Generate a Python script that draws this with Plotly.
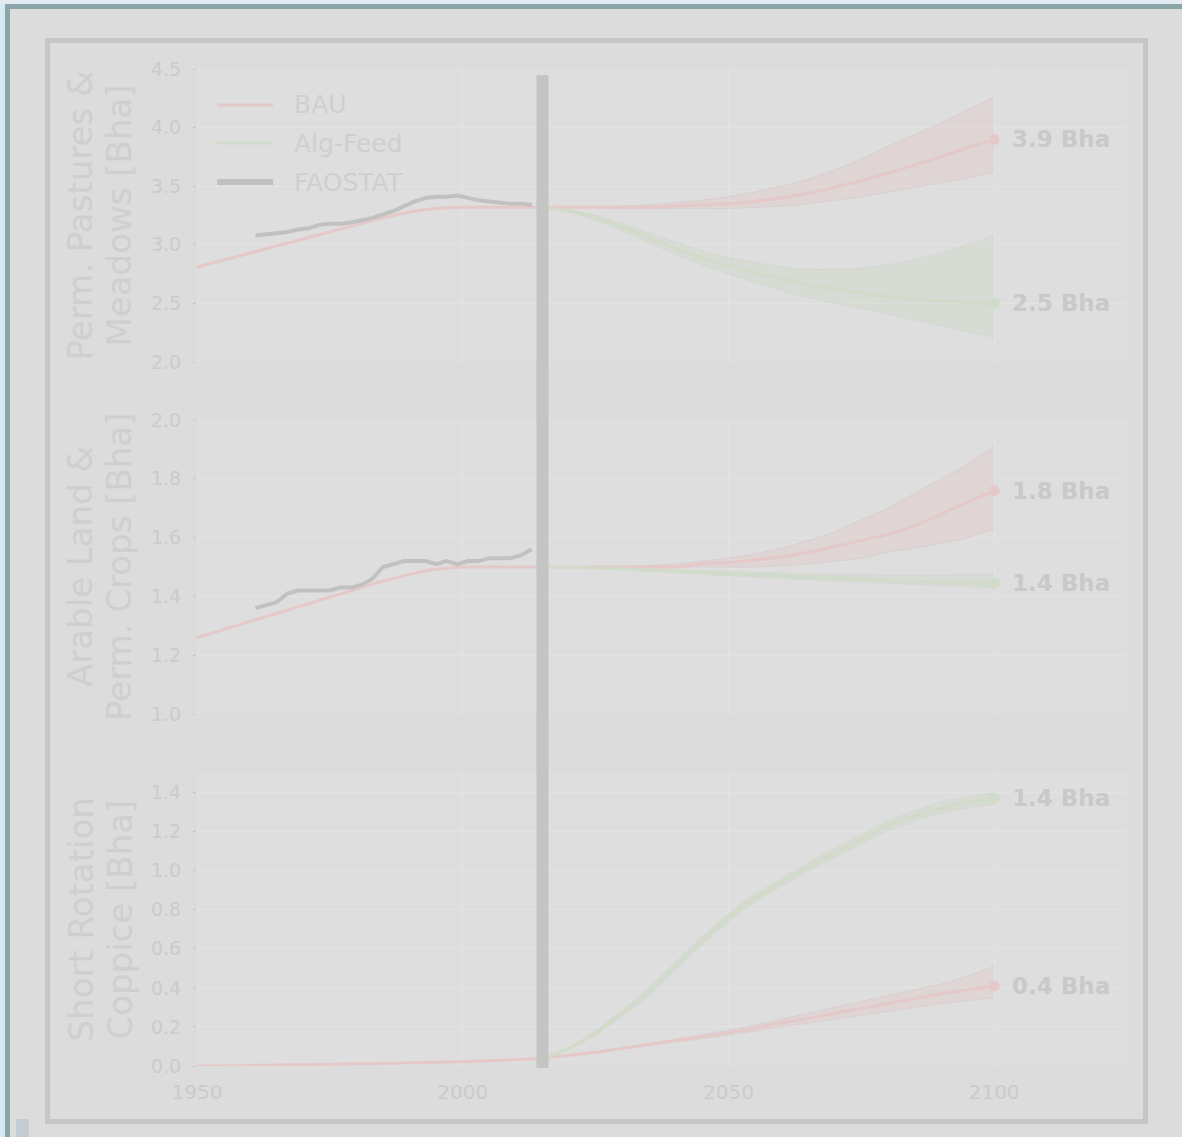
import plotly.graph_objects as go

# ---------------------------------------------------------------- data
years_hist = [1950, 1955, 1960, 1965, 1970, 1975, 1980, 1985, 1990, 1995, 2000, 2005, 2010, 2015]
years_proj = [2015, 2020, 2025, 2030, 2035, 2040, 2045, 2050, 2055, 2060,
              2065, 2070, 2075, 2080, 2085, 2090, 2095, 2100]
years_fao = [1961, 1963, 1965, 1967, 1969, 1971, 1973, 1975, 1977, 1979, 1981, 1983, 1985, 1987,
             1989, 1991, 1993, 1995, 1997, 1999, 2001, 2003, 2005, 2007, 2009, 2011, 2013]

# Permanent pastures & meadows [Bha]
pasture_hist = [2.81, 2.87, 2.93, 2.99, 3.05, 3.11, 3.17, 3.23, 3.28, 3.31, 3.32, 3.32, 3.32, 3.32]
pasture_bau = [3.32, 3.32, 3.32, 3.32, 3.32, 3.33, 3.34, 3.35, 3.37, 3.40, 3.44, 3.49, 3.55, 3.61,
               3.68, 3.75, 3.83, 3.90]
pasture_bau_hi = [3.32, 3.32, 3.32, 3.33, 3.34, 3.36, 3.38, 3.41, 3.45, 3.50, 3.56, 3.64, 3.73,
                  3.84, 3.94, 4.04, 4.15, 4.26]
pasture_bau_lo = [3.32, 3.32, 3.32, 3.31, 3.31, 3.31, 3.31, 3.31, 3.32, 3.33, 3.35, 3.38, 3.41,
                  3.45, 3.49, 3.53, 3.57, 3.62]
pasture_alg = [3.32, 3.29, 3.23, 3.15, 3.06, 2.97, 2.89, 2.82, 2.76, 2.71, 2.66, 2.62, 2.59, 2.56,
               2.54, 2.52, 2.51, 2.50]
pasture_alg_hi = [3.32, 3.30, 3.25, 3.18, 3.10, 3.02, 2.95, 2.89, 2.85, 2.81, 2.79, 2.79, 2.80,
                  2.83, 2.87, 2.93, 3.00, 3.08]
pasture_alg_lo = [3.32, 3.28, 3.21, 3.12, 3.02, 2.92, 2.83, 2.75, 2.68, 2.61, 2.55, 2.50, 2.46,
                  2.41, 2.36, 2.31, 2.26, 2.21]
pasture_fao = [3.08, 3.09, 3.10, 3.11, 3.13, 3.14, 3.17, 3.18, 3.18, 3.19, 3.21, 3.23, 3.26, 3.29,
               3.33, 3.37, 3.40, 3.41, 3.41, 3.42, 3.40, 3.38, 3.37, 3.36, 3.35, 3.35, 3.34]

# Arable land & permanent crops [Bha]
arable_hist = [1.26, 1.287, 1.315, 1.342, 1.37, 1.397, 1.425, 1.452, 1.475, 1.492, 1.50, 1.50,
               1.50, 1.50]
arable_bau = [1.50, 1.50, 1.50, 1.50, 1.50, 1.50, 1.51, 1.515, 1.525, 1.535, 1.55, 1.57, 1.59,
              1.61, 1.64, 1.68, 1.72, 1.76]
arable_bau_hi = [1.50, 1.50, 1.50, 1.50, 1.505, 1.51, 1.52, 1.53, 1.545, 1.565, 1.59, 1.62, 1.66,
                 1.70, 1.75, 1.80, 1.85, 1.91]
arable_bau_lo = [1.50, 1.50, 1.50, 1.50, 1.50, 1.50, 1.50, 1.50, 1.50, 1.505, 1.51, 1.52, 1.53,
                 1.55, 1.565, 1.58, 1.60, 1.63]
arable_alg = [1.50, 1.499, 1.497, 1.494, 1.49, 1.486, 1.482, 1.478, 1.474, 1.47, 1.466, 1.462,
              1.458, 1.455, 1.452, 1.449, 1.446, 1.444]
arable_alg_hi = [1.50, 1.50, 1.499, 1.497, 1.494, 1.491, 1.488, 1.485, 1.482, 1.479, 1.477, 1.475,
                 1.474, 1.473, 1.473, 1.473, 1.474, 1.475]
arable_alg_lo = [1.50, 1.498, 1.495, 1.491, 1.486, 1.481, 1.476, 1.471, 1.466, 1.461, 1.457,
                 1.453, 1.449, 1.445, 1.441, 1.437, 1.434, 1.43]
arable_fao = [1.36, 1.37, 1.38, 1.41, 1.42, 1.42, 1.42, 1.42, 1.43, 1.43, 1.44, 1.46, 1.50, 1.51,
              1.52, 1.52, 1.52, 1.51, 1.52, 1.51, 1.52, 1.52, 1.53, 1.53, 1.53, 1.54, 1.56]

# Short rotation coppice [Bha]
src_hist = [0.0, 0.0, 0.003, 0.005, 0.007, 0.009, 0.011, 0.013, 0.016, 0.019, 0.022, 0.027,
            0.033, 0.04]
src_bau = [0.04, 0.055, 0.07, 0.09, 0.11, 0.13, 0.15, 0.17, 0.195, 0.22, 0.245, 0.27, 0.295,
           0.32, 0.345, 0.37, 0.39, 0.41]
src_bau_hi = [0.04, 0.056, 0.072, 0.093, 0.115, 0.137, 0.16, 0.183, 0.21, 0.24, 0.27, 0.30,
              0.33, 0.36, 0.39, 0.42, 0.46, 0.51]
src_bau_lo = [0.04, 0.054, 0.068, 0.087, 0.105, 0.123, 0.14, 0.158, 0.18, 0.20, 0.22, 0.24,
              0.26, 0.28, 0.30, 0.32, 0.335, 0.35]
src_alg = [0.04, 0.09, 0.17, 0.27, 0.38, 0.51, 0.64, 0.76, 0.86, 0.94, 1.02, 1.09, 1.16, 1.23,
           1.28, 1.32, 1.35, 1.37]
src_alg_hi = [0.04, 0.095, 0.18, 0.285, 0.40, 0.53, 0.66, 0.78, 0.88, 0.96, 1.04, 1.115, 1.185,
              1.255, 1.305, 1.35, 1.38, 1.40]
src_alg_lo = [0.04, 0.085, 0.16, 0.255, 0.36, 0.49, 0.62, 0.74, 0.84, 0.92, 1.00, 1.065, 1.135,
              1.205, 1.255, 1.295, 1.32, 1.34]

panel_titles = [("Perm. Pastures &", "Meadows [Bha]"),
                ("Arable Land &", "Perm. Crops [Bha]"),
                ("Short Rotation", "Coppice [Bha]")]
y_ranges = [(2.0, 4.5), (1.0, 2.0), (0.0, 1.5)]
y_dticks = [0.5, 0.2, 0.2]
y_tick_max = [4.5, 2.0, 1.4]
x_ticks = [1950, 2000, 2050, 2100]
x_range = (1950, 2125)
present_year = 2015
legend_names = ["BAU", "Alg-Feed", "FAOSTAT"]

# ---------------------------------------------------------------- style
W, H = 1182, 1137
FONT = "DejaVu Sans"
BG = "#dcdcdc"
PLOT_BG = "#dedede"
GRID = "#e3e3e3"
TEXT = "#cbcbcb"
BAU_COL = "#e5c8c8"
BAU_FILL = "rgba(228,196,196,0.32)"
BAU_EDGE = "#dacece"
ALG_COL = "#d1dbc9"
ALG_FILL = "rgba(200,216,190,0.32)"
ALG_EDGE = "#d3d8d0"
FAO_COL = "#c1c1c1"


def px_x(x):
    return x / W


def px_y(y):
    return 1 - y / H


x_domain = [px_x(197), px_x(1127)]
y_domains = [[px_y(362), px_y(69)], [px_y(714), px_y(420)], [px_y(1066), px_y(773)]]

panels = [
    dict(hist=pasture_hist, bau=pasture_bau, bau_hi=pasture_bau_hi, bau_lo=pasture_bau_lo,
         alg=pasture_alg, alg_hi=pasture_alg_hi, alg_lo=pasture_alg_lo, fao=pasture_fao),
    dict(hist=arable_hist, bau=arable_bau, bau_hi=arable_bau_hi, bau_lo=arable_bau_lo,
         alg=arable_alg, alg_hi=arable_alg_hi, alg_lo=arable_alg_lo, fao=arable_fao),
    dict(hist=src_hist, bau=src_bau, bau_hi=src_bau_hi, bau_lo=src_bau_lo,
         alg=src_alg, alg_hi=src_alg_hi, alg_lo=src_alg_lo, fao=None),
]

fig = go.Figure()
annotations = []

for i, p in enumerate(panels):
    xa = "x" if i == 0 else f"x{i + 1}"
    ya = "y" if i == 0 else f"y{i + 1}"

    def band(lo, hi, fill, edge):
        fig.add_trace(go.Scatter(x=years_proj, y=lo, mode="lines", xaxis=xa, yaxis=ya,
                                 line=dict(color=edge, width=1, shape="spline", smoothing=0.6),
                                 showlegend=False, hoverinfo="skip"))
        fig.add_trace(go.Scatter(x=years_proj, y=hi, mode="lines", xaxis=xa, yaxis=ya,
                                 line=dict(color=edge, width=1, shape="spline", smoothing=0.6),
                                 fill="tonexty", fillcolor=fill, showlegend=False,
                                 hoverinfo="skip"))

    band(p["bau_lo"], p["bau_hi"], BAU_FILL, BAU_EDGE)
    band(p["alg_lo"], p["alg_hi"], ALG_FILL, ALG_EDGE)

    # historic model run, then the two scenarios
    fig.add_trace(go.Scatter(x=years_hist + years_proj[1:], y=p["hist"] + p["bau"][1:],
                             mode="lines", xaxis=xa, yaxis=ya,
                             line=dict(color=BAU_COL, width=3, shape="spline", smoothing=0.6),
                             showlegend=False))
    fig.add_trace(go.Scatter(x=years_proj, y=p["alg"], mode="lines", xaxis=xa, yaxis=ya,
                             line=dict(color=ALG_COL, width=3, shape="spline", smoothing=0.6),
                             showlegend=False))
    if p["fao"] is not None:
        fig.add_trace(go.Scatter(x=years_fao, y=p["fao"], mode="lines", xaxis=xa, yaxis=ya,
                                 line=dict(color=FAO_COL, width=4), showlegend=False))

    # end-of-century markers with value labels
    for series, col in ((p["bau"], BAU_COL), (p["alg"], ALG_COL)):
        end_x, end_y = years_proj[-1], series[-1]
        fig.add_trace(go.Scatter(x=[end_x], y=[end_y], mode="markers", xaxis=xa, yaxis=ya,
                                 marker=dict(color=col, size=11), showlegend=False))
        annotations.append(dict(x=end_x, y=end_y, xref=xa, yref=ya, xanchor="left",
                                yanchor="middle", xshift=16, showarrow=False,
                                text=f"{end_y:.1f} Bha",
                                font=dict(family=FONT, size=23, color="#c9c9c9",
                                          weight="bold")))

    # two-line rotated axis title
    y_mid = (y_domains[i][0] + y_domains[i][1]) / 2
    for line_text, xpix in zip(panel_titles[i], (80, 119)):
        annotations.append(dict(x=px_x(xpix), y=y_mid, xref="paper", yref="paper",
                                text=line_text, textangle=-90, showarrow=False,
                                xanchor="center", yanchor="middle",
                                font=dict(family=FONT, size=34, color="#cfcfcf")))

    lo, hi = y_ranges[i]
    n_ticks = int(round((y_tick_max[i] - lo) / y_dticks[i])) + 1
    tickvals = [round(lo + k * y_dticks[i], 2) for k in range(n_ticks)]
    axis_key = "yaxis" if i == 0 else f"yaxis{i + 1}"
    fig.layout[axis_key] = dict(
        domain=y_domains[i], range=[lo, hi], tickvals=tickvals, tickformat=".1f",
        showgrid=True, gridcolor=GRID, gridwidth=1, zeroline=False, showline=False,
        ticks="outside", ticklen=3, tickcolor="#c6c6c6", anchor=xa,
        tickfont=dict(family=FONT, size=19, color=TEXT), ticklabelstandoff=8,
    )
    x_key = "xaxis" if i == 0 else f"xaxis{i + 1}"
    fig.layout[x_key] = dict(
        domain=x_domain, range=list(x_range), tickvals=x_ticks, anchor=ya,
        showticklabels=(i == 2), showgrid=True, gridcolor=GRID, gridwidth=1,
        zeroline=False, showline=False, ticks="",
        tickfont=dict(family=FONT, size=20, color=TEXT), ticklabelstandoff=12,
        matches=None if i == 0 else "x",
    )

# legend drawn in the top panel
legend_cols = [BAU_COL, ALG_COL, FAO_COL]
legend_widths = [3, 3, 6]
legend_y = [105, 143, 182]
shapes = []
for name, col, lw, ly in zip(legend_names, legend_cols, legend_widths, legend_y):
    shapes.append(dict(type="line", xref="paper", yref="paper", x0=px_x(217), x1=px_x(273),
                       y0=px_y(ly), y1=px_y(ly), line=dict(color=col, width=lw)))
    annotations.append(dict(x=px_x(292), y=px_y(ly), xref="paper", yref="paper", text=name,
                            xanchor="left", yanchor="middle", showarrow=False,
                            font=dict(family=FONT, size=25, color="#cfcfcf")))

# "present day" divider spanning all panels
shapes.append(dict(type="line", xref="x", yref="paper", x0=present_year, x1=present_year,
                   y0=px_y(1068), y1=px_y(75), line=dict(color="#c4c4c4", width=12),
                   layer="above"))

# page frame
shapes += [
    dict(type="rect", xref="paper", yref="paper", x0=0, x1=px_x(5), y0=0, y1=1,
         line=dict(width=0), fillcolor="#d8e9f3", layer="below"),
    dict(type="rect", xref="paper", yref="paper", x0=0, x1=1, y0=px_y(4), y1=1,
         line=dict(width=0), fillcolor="#e2ecf0", layer="below"),
    dict(type="rect", xref="paper", yref="paper", x0=px_x(5), x1=px_x(10), y0=0, y1=px_y(4),
         line=dict(width=0), fillcolor="#89a5a7", layer="below"),
    dict(type="rect", xref="paper", yref="paper", x0=px_x(5), x1=1, y0=px_y(9), y1=px_y(4),
         line=dict(width=0), fillcolor="#89a5a7", layer="below"),
    dict(type="rect", xref="paper", yref="paper", x0=px_x(47.5), x1=px_x(1145.5),
         y0=px_y(1121.5), y1=px_y(40.5), line=dict(color="#c6c6c6", width=5),
         fillcolor="rgba(0,0,0,0)", layer="below"),
    dict(type="rect", xref="paper", yref="paper", x0=px_x(16), x1=px_x(29), y0=0,
         y1=px_y(1119), line=dict(width=0), fillcolor="#c3cdd6", layer="below"),
]

fig.update_layout(
    width=W, height=H, margin=dict(l=0, r=0, t=0, b=0, autoexpand=False),
    paper_bgcolor=BG, plot_bgcolor=PLOT_BG, showlegend=False,
    annotations=annotations, shapes=shapes,
    font=dict(family=FONT, color=TEXT),
)

fig.write_html("out.html")
